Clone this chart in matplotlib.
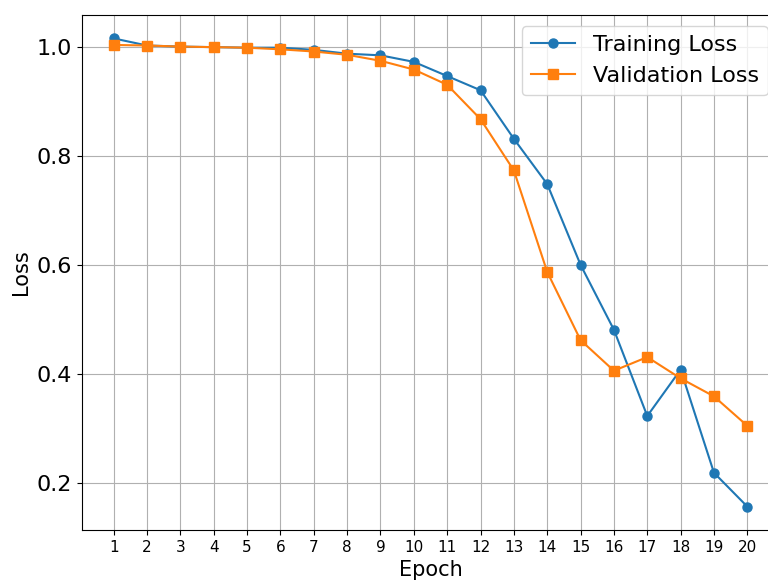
import numpy as np
import matplotlib
matplotlib.use("Agg")
import matplotlib.pyplot as plt

# Loss per epoch
epochs = list(range(1, 21))
train_loss = [1.015, 1.002, 1.000, 0.999, 0.998, 0.998, 0.994, 0.987, 0.984, 0.972,
              0.946, 0.920, 0.831, 0.748, 0.600, 0.481, 0.323, 0.408, 0.219, 0.157]
val_loss = [1.003, 1.002, 1.000, 0.999, 0.998, 0.995, 0.991, 0.985, 0.974, 0.958,
            0.930, 0.867, 0.773, 0.587, 0.462, 0.406, 0.431, 0.392, 0.359, 0.305]

fig = plt.figure(figsize=(7.68, 5.81), dpi=100)
ax = fig.add_axes([82 / 768, 51 / 581, 697 / 768, 515 / 581])

ax.plot(epochs, train_loss, marker='o', markersize=6.5, label='Training Loss')
ax.plot(epochs, val_loss, marker='s', markersize=6.5, label='Validation Loss')

ax.set_xticks(epochs)
ax.tick_params(axis='x', labelsize=11)
ax.tick_params(axis='y', labelsize=16)
ax.set_xlabel('Epoch', fontsize=15)
ax.set_ylabel('Loss', fontsize=15)
ax.grid(True)
ax.legend(loc='upper right', fontsize=16)

fig.savefig('out.png', dpi=100)
